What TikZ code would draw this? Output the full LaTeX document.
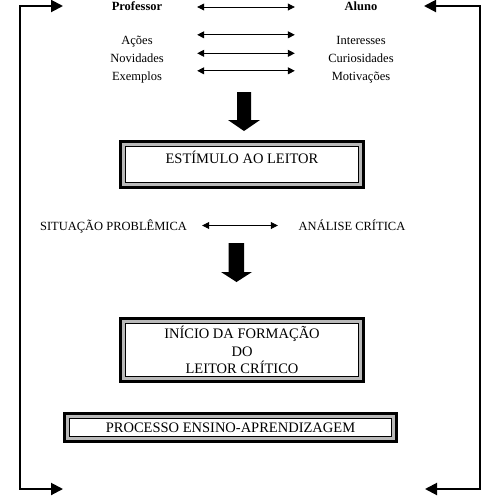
\documentclass[tikz,border=0pt]{standalone}
\usepackage{fontspec}
\setmainfont{Liberation Serif}
\usetikzlibrary{arrows.meta}
\begin{document}
\begin{tikzpicture}[x=1pt,y=-1pt,
  frame/.style={line width=2pt, line join=miter, {Triangle[length=12pt,width=12pt]}-{Triangle[length=12pt,width=12pt]}},
  dbl/.style={line width=0.8pt, {Triangle[length=7pt,width=7pt]}-{Triangle[length=7pt,width=7pt]}},
  lbl/.style={inner sep=0pt, font=\fontsize{12.5}{15}\selectfont, text height=9pt, text depth=3pt, anchor=base},
  boldlbl/.style={lbl, font=\fontsize{12.5}{15}\selectfont\bfseries},
  lcol/.style={minimum width=120pt},
  rcol/.style={minimum width=132pt},
  outerbox/.style={draw=black, line width=3pt, fill=gray!55},
  innerbox/.style={draw=black, line width=0.8pt, fill=white, inner sep=0pt, align=center, font=\fontsize{14.5}{17.5}\selectfont},
  bigarrow/.style={fill=black}
]
\useasboundingbox (0,0) rectangle (500,496);

% outer feedback frame
\coordinate (tl) at (63,6);
\coordinate (ctl) at (20,6);
\coordinate (cbl) at (20,489);
\coordinate (bl) at (63,489);
\coordinate (tr) at (424,6);
\coordinate (ctr) at (480,6);
\coordinate (cbr) at (480,489);
\coordinate (br) at (425,489);
\draw[frame] (tl) -- (ctl) -- (cbl) -- (bl);
\draw[frame] (tr) -- (ctr) -- (cbr) -- (br);

% top rows
\node[boldlbl, lcol] (prof) at (137,10) {Professor};
\node[boldlbl, rcol] (aluno) at (361,10) {Aluno};
\draw[dbl] (prof) -- (aluno);

\node[lbl, lcol] (acoes) at (137,44) {Ações};
\node[lbl, lcol] (novid) at (137,62.5) {Novidades};
\node[lbl, lcol] (exemp) at (137,80) {Exemplos};
\node[lbl, rcol] (inter) at (361,44) {Interesses};
\node[lbl, rcol] (curio) at (361,62.5) {Curiosidades};
\node[lbl, rcol] (motiv) at (361,80) {Motivações};
\draw[dbl] (acoes.north east) -- (inter.north west);
\draw[dbl] (novid.north east) -- (curio.north west);
\draw[dbl] (exemp.north east) -- (motiv.north west);

% big arrow 1
\fill[bigarrow] (237,92) -- (251,92) -- (251,120) -- (260,120) -- (244,131) -- (228,120) -- (237,120) -- cycle;

% box 1
\draw[outerbox] (120.5,141.5) rectangle (363.5,187.5);
\node[innerbox, minimum width=233pt, minimum height=36pt, text height=10pt, text depth=13pt] (estimulo) at (242,164.5) {ESTÍMULO AO LEITOR};

% situation row
\node[lbl, minimum width=177pt, text depth=0pt] (sit) at (113.5,230) {SITUAÇÃO PROBLÊMICA};
\node[lbl, minimum width=148pt, text depth=0pt] (anal) at (352,230) {ANÁLISE CRÍTICA};
\draw[dbl] (sit) -- (anal);

% big arrow 2
\fill[bigarrow] (228.5,243) -- (244,243) -- (244,272) -- (252,272) -- (236.5,282) -- (221,272) -- (228.5,272) -- cycle;

% box 2
\draw[outerbox] (120.5,318.5) rectangle (363.5,381.5);
\node[innerbox, minimum width=233pt, minimum height=53pt] (inicio) at (242,350) {INÍCIO DA FORMAÇÃO\\DO\\LEITOR CRÍTICO};

% box 3
\draw[outerbox] (64.5,413.5) rectangle (396.5,441.5);
\node[innerbox, minimum width=322pt, minimum height=18pt] (processo) at (230.5,427.5) {PROCESSO ENSINO-APRENDIZAGEM};
\end{tikzpicture}
\end{document}
